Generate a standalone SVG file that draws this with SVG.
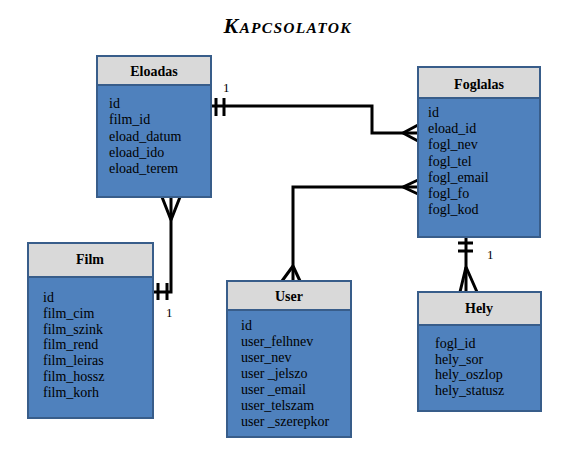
<svg xmlns="http://www.w3.org/2000/svg" width="570" height="459" viewBox="0 0 570 459">
<style>
.hd{fill:#D9D9D9;stroke:#385D8A;stroke-width:2}
.bd{fill:#4F81BD;stroke:#385D8A;stroke-width:2}
.ht{font-family:"Liberation Serif",serif;font-size:14px;font-weight:bold;fill:#000;text-anchor:middle}
.bt{font-family:"Liberation Serif",serif;font-size:14px;fill:#000}
.c{fill:none;stroke:#000;stroke-width:3}
.lb{font-family:"Liberation Serif",serif;font-size:13px;fill:#000}
</style>
<rect width="570" height="459" fill="#fff"/>
<text x="287" y="33" text-anchor="middle" textLength="127" lengthAdjust="spacing" font-family="Liberation Serif,serif" font-style="italic" font-weight="bold" font-size="22">K<tspan font-size="15.5">APCSOLATOK</tspan></text>

<g id="connectors">
<path class="c" d="M211,106 H372 V133 H418"/>
<path class="c" d="M216,98 V116 M224,98 V116"/>
<path class="c" d="M403,133 L418,125 M403,133 L418,141"/>
<path class="c" d="M418,187 H293 V281"/>
<path class="c" d="M403,187 L418,180 M403,187 L418,194"/>
<path class="c" d="M293,266 L282,281 M293,266 L300,281"/>
<path class="c" d="M171,197 V292 H153"/>
<path class="c" d="M171,220 L162,197 M171,220 L180,197"/>
<path class="c" d="M158,283 V300 M167,283 V300"/>
<path class="c" d="M466,237 V292"/>
<path class="c" d="M458,243 H473 M458,251 H473"/>
<path class="c" d="M466,267 L460,292 M466,267 L477,292"/>
<text class="lb" x="223" y="92">1</text>
<text class="lb" x="166" y="317">1</text>
<text class="lb" x="487" y="259">1</text>
</g>

<g id="eloadas">
<rect class="bd" x="97" y="56" width="114" height="141"/>
<rect class="hd" x="97" y="56" width="114" height="29"/>
<text class="ht" x="154" y="76">Eloadas</text>
<text class="bt" x="109" y="108">id</text>
<text class="bt" x="109" y="124.3">film_id</text>
<text class="bt" x="109" y="140.6">eload_datum</text>
<text class="bt" x="109" y="156.9">eload_ido</text>
<text class="bt" x="109" y="173.2">eload_terem</text>
</g>

<g id="foglalas">
<rect class="bd" x="418" y="67" width="122" height="170"/>
<rect class="hd" x="418" y="67" width="122" height="31"/>
<text class="ht" x="479" y="89">Foglalas</text>
<text class="bt" x="428" y="117">id</text>
<text class="bt" x="428" y="133.2">eload_id</text>
<text class="bt" x="428" y="149.4">fogl_nev</text>
<text class="bt" x="428" y="165.6">fogl_tel</text>
<text class="bt" x="428" y="181.8">fogl_email</text>
<text class="bt" x="428" y="198">fogl_fo</text>
<text class="bt" x="428" y="214.2">fogl_kod</text>
</g>

<g id="film">
<rect class="bd" x="28" y="243" width="125" height="175"/>
<rect class="hd" x="28" y="243" width="125" height="34"/>
<text class="ht" x="90" y="264">Film</text>
<text class="bt" x="43" y="302">id</text>
<text class="bt" x="43" y="317.8">film_cim</text>
<text class="bt" x="43" y="333.6">film_szink</text>
<text class="bt" x="43" y="349.4">film_rend</text>
<text class="bt" x="43" y="365.2">film_leiras</text>
<text class="bt" x="43" y="381">film_hossz</text>
<text class="bt" x="43" y="396.8">film_korh</text>
</g>

<g id="user">
<rect class="bd" x="227" y="281" width="124" height="156"/>
<rect class="hd" x="227" y="281" width="124" height="29"/>
<text class="ht" x="289" y="301">User</text>
<text class="bt" x="241" y="330">id</text>
<text class="bt" x="241" y="346">user_felhnev</text>
<text class="bt" x="241" y="362">user_nev</text>
<text class="bt" x="241" y="378">user _jelszo</text>
<text class="bt" x="241" y="394">user _email</text>
<text class="bt" x="241" y="410">user_telszam</text>
<text class="bt" x="241" y="426">user _szerepkor</text>
</g>

<g id="hely">
<rect class="bd" x="418" y="292" width="123" height="119"/>
<rect class="hd" x="418" y="292" width="123" height="33"/>
<text class="ht" x="479" y="313">Hely</text>
<text class="bt" x="435" y="348">fogl_id</text>
<text class="bt" x="435" y="363.7">hely_sor</text>
<text class="bt" x="435" y="379.4">hely_oszlop</text>
<text class="bt" x="435" y="395.1">hely_statusz</text>
</g>
</svg>
